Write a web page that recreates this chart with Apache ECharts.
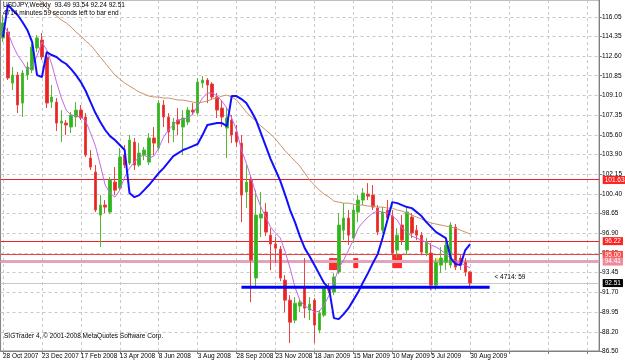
<!DOCTYPE html>
<html><head><meta charset="utf-8">
<script src="https://cdn.jsdelivr.net/npm/echarts@6/dist/echarts.min.js"></script>
<style>html,body{margin:0;padding:0;background:#fff}#c{width:625px;height:363px}</style>
</head><body><div id="c"></div>
<script>
// ---- data ----
const monthNames = ['Jan','Feb','Mar','Apr','May','Jun','Jul','Aug','Sep','Oct','Nov','Dec'];
const firstWeek = Date.UTC(2007, 9, 28);
const dataWeeks = 97;     // bars with prices
const totalWeeks = 123;   // incl. empty future space on the right
const categories = Array.from({length: totalWeeks}, (_, i) => {
  const d = new Date(firstWeek + i * 7 * 86400000);
  return d.getUTCDate() + ' ' + monthNames[d.getUTCMonth()] + ' ' + d.getUTCFullYear();
});

const opens = [114.19,114.72,110.20,110.91,108.43,110.91,111.36,113.30,114.01,112.51,
108.52,108.52,106.66,106.66,106.31,107.20,107.81,107.20,103.57,102.33,
98.52,99.41,98.79,101.44,100.91,103.83,103.12,104.98,102.95,103.83,
103.21,105.34,104.45,108.26,107.20,106.05,106.93,106.31,106.75,107.81,
107.55,110.20,110.47,110.12,108.97,107.99,106.22,106.93,105.87,104.89,
100.56,101.62,92.95,98.26,98.79,96.75,95.96,95.51,92.77,91.00,
89.23,90.47,92.15,90.12,91.00,88.35,89.67,92.15,91.71,93.48,
97.19,98.26,96.49,98.79,99.85,100.38,100.29,99.14,97.19,98.97,
98.44,95.43,97.64,95.43,98.35,97.19,96.75,95.16,95.16,92.33,
94.10,94.36,94.10,97.46,94.72,94.36,93.49];
const closes = [115.52,110.65,110.91,108.26,111.09,111.62,113.39,114.19,112.51,108.43,
108.97,106.66,106.84,106.49,107.37,107.81,107.11,103.83,102.77,98.97,
99.41,99.23,101.62,100.73,103.66,102.95,105.16,102.95,104.01,104.28,
105.34,104.89,108.43,107.20,105.87,106.75,106.58,107.11,107.81,107.64,
110.29,110.47,110.03,108.97,107.81,107.20,107.11,105.60,104.98,100.29,
101.44,94.54,98.52,98.61,97.02,95.96,95.60,92.95,91.00,89.05,
90.73,90.82,90.29,90.65,88.79,89.85,92.06,91.88,93.04,97.64,
98.26,96.75,98.97,99.85,100.47,100.20,99.23,97.02,98.79,98.26,
95.16,96.75,96.31,98.79,96.93,96.75,95.25,96.13,92.33,94.36,
94.72,95.87,97.64,93.92,94.10,93.48,92.51];
const highs = [116.22,115.07,111.62,111.18,111.36,112.06,113.66,114.45,114.63,112.68,
110.03,108.88,107.81,106.93,107.64,108.52,108.26,107.55,104.28,102.95,
100.29,99.85,101.89,102.77,104.45,104.72,105.60,105.34,104.89,104.54,
105.78,106.31,108.70,108.70,107.55,107.11,107.99,107.81,108.08,108.43,
110.65,110.82,110.65,110.29,109.32,108.70,107.99,107.37,106.49,105.60,
102.95,102.06,100.73,100.56,99.58,97.37,96.57,95.78,93.21,91.44,
91.27,91.09,94.72,91.27,91.18,90.12,92.24,92.50,93.39,98.70,
99.58,98.97,99.41,100.29,100.91,101.35,101.18,99.41,99.23,99.85,
98.97,97.37,98.52,99.14,98.70,97.64,97.02,96.49,96.05,94.72,
95.69,96.31,97.90,97.73,94.98,94.72,93.54];
const lows = [113.83,110.47,109.59,107.55,107.20,110.47,111.09,112.95,112.24,107.99,
107.99,105.96,104.98,105.60,105.78,106.31,106.93,103.66,102.51,98.79,
95.69,98.70,98.61,100.29,100.73,102.68,102.95,102.51,102.77,103.39,
102.95,103.83,104.28,106.31,104.89,104.98,105.60,103.83,106.49,107.37,
107.37,109.76,108.43,108.70,107.11,106.31,103.57,104.89,104.54,97.90,
99.14,90.82,92.15,96.57,96.66,93.66,94.27,92.68,89.94,87.19,
88.96,89.94,89.41,89.23,87.19,88.08,89.50,91.62,91.44,93.30,
96.31,95.87,96.05,97.90,99.41,99.85,98.97,96.75,96.93,97.90,
94.72,94.72,95.87,94.98,96.49,96.31,94.98,94.89,91.88,91.88,
93.39,93.66,93.83,93.66,93.66,93.12,92.24];

const blueLine = [114.28,117.11,116.67,116.22,115.60,114.90,113.83,110.91,110.74,112.95,
112.68,112.51,112.15,111.89,111.44,110.91,110.29,109.50,108.52,107.55,
106.75,106.05,105.51,105.16,104.72,104.28,100.47,100.11,100.29,100.73,
101.18,101.71,102.24,102.68,103.21,103.74,104.01,104.28,104.45,104.63,
104.81,105.60,106.49,106.58,106.66,106.66,106.40,109.05,109.05,108.79,
108.43,107.73,106.93,105.78,104.63,103.48,102.51,101.53,100.29,98.97,
97.90,96.66,95.60,94.89,94.10,93.30,92.50,92.06,89.41,89.32,
89.76,90.29,91.00,91.71,92.59,93.39,94.27,95.07,96.49,98.08,
99.67,99.58,99.41,99.23,99.14,98.79,98.44,97.90,97.46,97.02,
96.75,96.49,94.72,94.19,94.10,95.43,95.96];
const violetLine = [115.34,114.72,113.57,112.68,112.06,111.36,111.71,112.60,113.83,113.12,
111.89,110.29,108.88,107.81,107.37,107.28,107.20,106.84,105.78,104.63,
102.95,101.18,100.47,100.11,100.73,101.89,102.68,103.21,103.66,103.83,
103.57,103.74,104.45,105.42,106.05,106.49,106.93,107.02,107.11,107.46,
108.17,108.88,109.32,109.32,109.05,108.61,107.99,107.11,106.05,104.28,
103.12,101.80,100.38,99.23,98.35,97.46,96.93,96.49,95.25,93.83,
92.15,91.00,90.47,90.29,89.94,90.03,90.56,91.44,92.59,93.83,
94.54,95.43,96.31,97.37,97.90,98.35,98.70,98.88,98.79,98.70,
98.44,98.08,97.37,97.02,96.66,96.49,96.31,96.13,95.87,95.69,
95.43,95.07,94.72,94.46,94.27,94.10,93.83];
const brownLine = [null,null,null,null,null,null,118.26,117.73,117.29,116.85,
116.49,116.14,115.78,115.52,115.16,114.72,114.37,113.92,113.57,113.04,
112.51,111.97,111.44,110.91,110.56,110.20,109.94,109.67,109.41,109.23,
109.05,108.97,108.97,108.88,108.88,108.79,108.70,108.70,108.61,108.52,
108.43,108.52,108.61,108.79,108.88,109.05,109.14,108.97,108.70,108.17,
107.64,107.20,106.84,106.40,106.05,105.69,105.25,104.72,104.19,103.74,
103.30,102.86,102.24,101.62,101.18,100.73,100.38,100.11,99.76,99.67,
99.58,99.58,99.49,99.41,99.41,99.32,99.32,99.23,99.23,99.14,
99.14,98.97,98.88,98.70,98.52,98.35,98.17,97.99,97.82,97.73,
97.64,97.55,97.46,97.37,97.19,97.02,96.85];

const yTickLabels = ['116.05','114.35','112.60','110.85','109.10','107.35','105.60','103.90','102.15',
  '100.40','98.65','96.90','95.15','93.45','91.70','89.95','88.20','86.50'];
const levelValues = [101.63, 96.22, 95.00, 94.41];
const bidPrice = 92.51;
const trendValue = 92.15;
const trendFrom = 49, trendTo = 100;           // category indices
const boxRanges = [[67, 69, 94.72, 93.66], [72, 73, 94.72, 93.83], [80, 82, 94.99, 93.83]];
const yellowBox = [89, 90, 94.72, 94.27];
const timerText = '< 4714: 59';
const timerAt = [101, 93.0];

// ---- styles ----
const FONT = 'Liberation Sans, Arial, sans-serif';
const FS = 6.5;
const levelLineColors = ['#ee2222', '#ee2222', '#f04040', '#e2a4bc', '#c8c8c8'];
const levelWidths = [1, 1, 1, 3, 1];
const tagColors = ['#ff2020', '#ff2020', '#ff4a4a', '#f08a9a', '#000000'];

const candleData = opens.map((o, i) => [o, closes[i], lows[i], highs[i]]);
const allLevels = levelValues.concat([bidPrice]);

// horizontal level lines: crisp rectangles placed through the y scale
const levelSeries = {
  type: 'custom', silent: true, z: 1,
  data: allLevels.map(v => [0, v]),
  encode: {x: 0, y: 1},
  renderItem: (params, api) => {
    const cs = params.coordSys;
    const i = params.dataIndex;
    const y = api.coord([0, api.value(1)])[1];
    const w = levelWidths[i];
    return {type: 'rect', shape: {x: cs.x, y: Math.round(y - w / 2), width: cs.width, height: w},
            style: {fill: levelLineColors[i]}};
  }
};
const trendSeries = {
  type: 'line', silent: true, symbol: 'none', z: 6,
  data: categories.map((c, i) => (i >= trendFrom && i <= trendTo ? trendValue : null)),
  lineStyle: {color: '#0000ff', width: 3, type: 'solid'}
};

// price tags on the right axis
const tagPoints = allLevels.map((v, i) => ({
  coord: [categories[totalWeeks - 1], v],
  label: {backgroundColor: tagColors[i], formatter: v.toFixed(2)}
}));

const markAreaData = boxRanges.map(b => [
  {xAxis: categories[b[0]], yAxis: b[2], itemStyle: {color: '#ff2a2a'}},
  {xAxis: categories[b[1]], yAxis: b[3]}
]);
markAreaData.push([
  {xAxis: categories[yellowBox[0]], yAxis: yellowBox[2], itemStyle: {color: '#ffee33'}},
  {xAxis: categories[yellowBox[1]], yAxis: yellowBox[3]}
]);

const chart = echarts.init(document.getElementById('c'), null, {renderer: 'canvas'});
const everyEighth = (idx) => idx % 8 === 0;
chart.setOption({
  animation: false,
  backgroundColor: '#fff',
  textStyle: {fontFamily: FONT},
  title: [
    {text: 'USDJPY,Weekly  93.49 93.54 92.24 92.51', left: 3, top: 2, padding: 0,
     textStyle: {fontSize: FS, fontWeight: 'normal', color: '#000', fontFamily: FONT}},
    {text: '4714 minutes 59 seconds left to bar end', left: 3, top: 10, padding: 0,
     textStyle: {fontSize: FS, fontWeight: 'normal', color: '#000', fontFamily: FONT}},
    {text: 'SIGTrader 4, © 2001-2008 MetaQuotes Software Corp.', left: 4, top: 333, padding: 0,
     textStyle: {fontSize: FS, fontWeight: 'normal', color: '#000', fontFamily: FONT}}
  ],
  grid: {left: 0, right: 23, top: 0, bottom: 12, show: true, borderColor: '#808080', borderWidth: 1, backgroundColor: '#fff'},
  xAxis: {
    type: 'category', data: categories, boundaryGap: true,
    axisLine: {show: true, onZero: false, lineStyle: {color: '#808080'}},
    axisTick: {show: true, interval: everyEighth, alignWithLabel: true, length: 3, lineStyle: {color: '#808080'}},
    axisLabel: {interval: everyEighth, align: 'left', margin: 2,
      fontSize: FS, color: '#000', fontFamily: FONT,
      formatter: (val, idx) => (idx < dataWeeks ? val : '')},
    splitLine: {show: true, interval: everyEighth, alignWithLabel: true, lineStyle: {color: '#c8c8c8', type: [3, 3]}}
  },
  yAxis: {
    type: 'value', position: 'right', min: 86.5, max: 117.55, scale: true,
    axisLine: {show: true, lineStyle: {color: '#808080'}},
    axisTick: {show: true, length: 3, customValues: yTickLabels.map(Number), lineStyle: {color: '#808080'}},
    axisLabel: {customValues: yTickLabels.map(Number), formatter: (v) => Number(v).toFixed(2),
      margin: 3, fontSize: FS, color: '#000', fontFamily: FONT},
    splitLine: {show: true, lineStyle: {color: '#c8c8c8', type: [3, 3]}}
  },
  series: [
    levelSeries,
    trendSeries,
    {
      type: 'candlestick', data: candleData, barWidth: 3, z: 2,
      itemStyle: {color: '#22bb22', color0: '#ee2222', borderColor: '#55b833', borderColor0: '#e84444', borderWidth: 1},
      markArea: {silent: true, data: markAreaData},
      markPoint: {
        silent: true, symbol: 'circle', symbolSize: 0,
        label: {show: true, position: 'right', distance: 0, color: '#000', fontSize: FS, fontFamily: FONT,
          formatter: () => timerText},
        data: [{coord: [categories[timerAt[0]], timerAt[1]]}]
      }
    },
    {
      type: 'scatter', data: [], silent: true, z: 7,
      markPoint: {
        silent: true, symbol: 'circle', symbolSize: 0,
        label: {show: true, position: 'right', distance: 6, color: '#fff', fontSize: FS, fontFamily: FONT,
          padding: [1, 2, 0, 2]},
        data: tagPoints
      }
    },
    {type: 'line', data: brownLine, symbol: 'none', lineStyle: {color: '#c8926e', width: 1}, z: 3},
    {type: 'line', data: violetLine, symbol: 'none', lineStyle: {color: '#c46ae6', width: 1}, z: 4},
    {type: 'line', data: blueLine, symbol: 'none', lineStyle: {color: '#1010ff', width: 2}, z: 5}
  ]
});
</script></body></html>
